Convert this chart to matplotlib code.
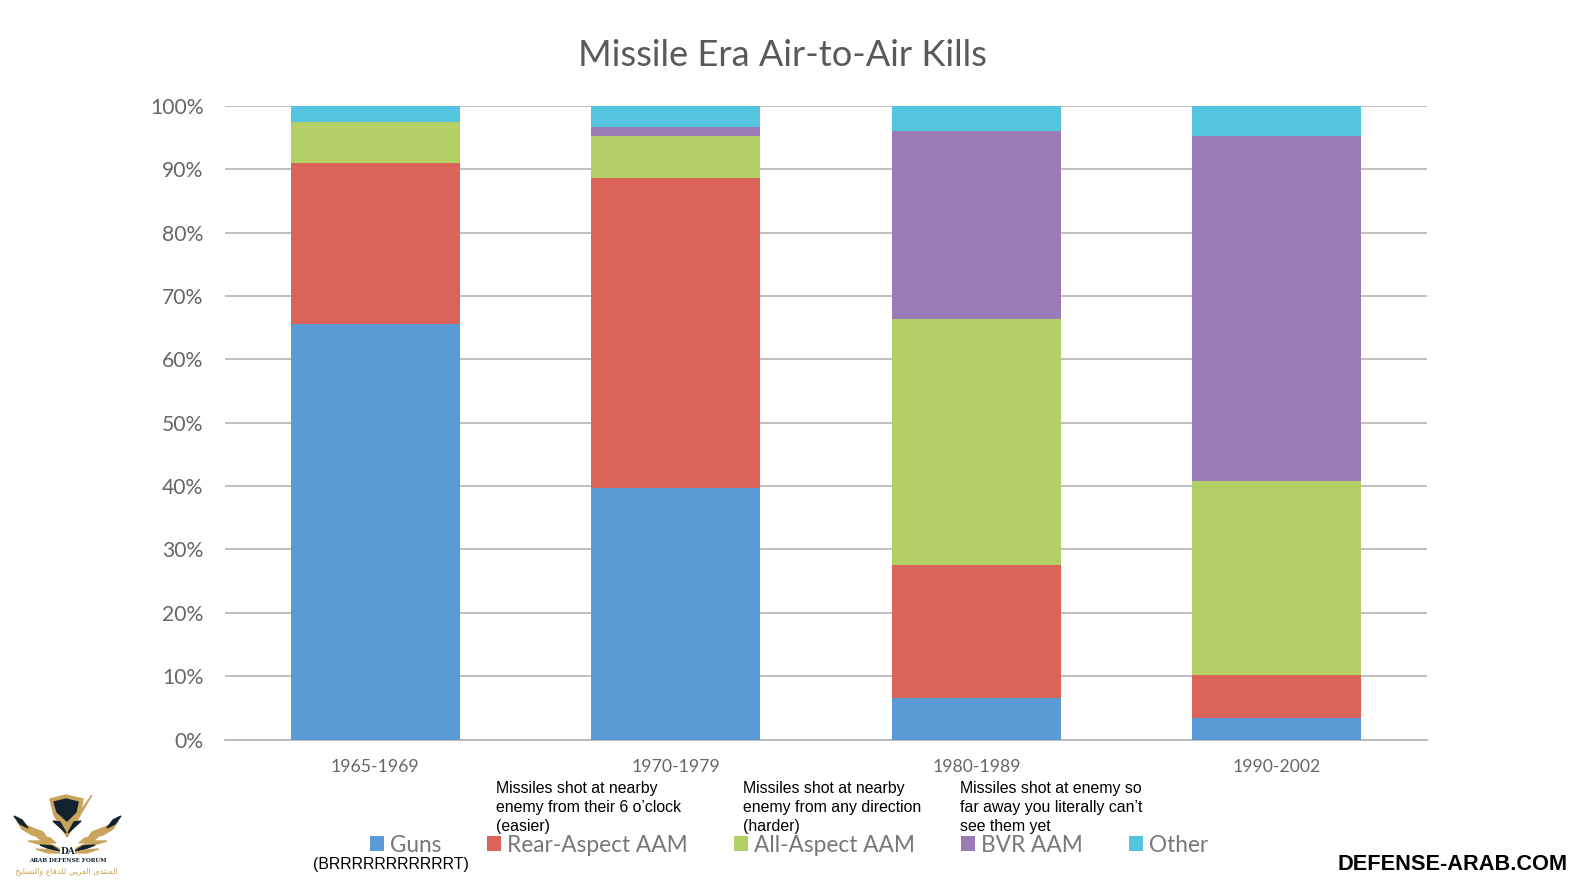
import matplotlib.pyplot as plt
import matplotlib.ticker
import numpy as np


class PlotKills:
    """ Creates the stacked percent bars of the air-to-air kills per era. """

    def __init__(self):
        self.periods = ["1965-1969", "1970-1979", "1980-1989", "1990-2002"]
        self.kills = {
            "Guns": [65.6, 39.7, 6.5, 3.4],
            "Rear-Aspect AAM": [25.4, 48.9, 21.1, 6.8],
            "All-Aspect AAM": [6.4, 6.7, 38.8, 30.6],
            "BVR AAM": [0.0, 1.4, 29.6, 54.5],
            "Other": [2.6, 3.3, 4.0, 4.7],
        }
        self.colors = ["#5b9bd5", "#dc635a", "#b2d066", "#9a7bb6", "#55c4df"]

    def plot_bars(self):
        plt.rcParams["font.family"] = "Lato"
        plt.figure(figsize=(15.75, 8.81), dpi=100)
        plt.axes([225 / 1575, 1 - 739.5 / 881, 1202 / 1575, 633.5 / 881])

        bottom = np.zeros(len(self.periods))
        for (name, values), color in zip(self.kills.items(), self.colors):
            plt.bar(self.periods, values, 0.563, bottom=bottom, color=color, label=name, zorder=3)
            bottom += np.array(values)

        plt.xlim(-0.5, 3.5)
        plt.ylim(0, 100)
        plt.yticks(range(0, 101, 10))
        plt.gca().yaxis.set_major_formatter(matplotlib.ticker.StrMethodFormatter("{x:.0f}%"))
        plt.grid(axis="y", color="#b4b4b4", linewidth=1.2, zorder=0)
        plt.tick_params(axis="both", length=0, labelcolor="#666666")
        plt.tick_params(axis="x", labelsize=12.7, pad=14)
        plt.tick_params(axis="y", labelsize=15.2, pad=15.5)
        for side in ["top", "left", "right"]:
            plt.gca().spines[side].set_visible(False)
        plt.gca().spines["bottom"].set_color("#b4b4b4")
        plt.gca().spines["bottom"].set_linewidth(1.2)

        plt.figtext(782.5 / 1575, 1 - 55 / 881, "Missile Era Air-to-Air Kills", fontsize=26.1,
                    color="#595959", ha="center", va="center")

        plt.legend(loc="center", bbox_to_anchor=(789 / 1575, 1 - 845 / 881),
                   bbox_transform=plt.gcf().transFigure, ncol=5, frameon=False, fontsize=16.3,
                   labelcolor="#777777", handlelength=0.62, handleheight=0.62,
                   handletextpad=0.27, columnspacing=2.03, borderpad=0)

    @staticmethod
    def plot_notes():
        notes = [
            (496, "Missiles shot at nearby\nenemy from their 6 o\u2019clock\n(easier)"),
            (743, "Missiles shot at nearby\nenemy from any direction\n(harder)"),
            (960, "Missiles shot at enemy so\nfar away you literally can\u2019t\nsee them yet"),
        ]
        for x, note in notes:
            plt.figtext(x / 1575, 1 - 781 / 881, note, family="Liberation Sans", fontsize=11.45,
                        color="black", ha="left", va="top", linespacing=1.33)

        plt.figtext(391 / 1575, 1 - 864 / 881, "(BRRRRRRRRRRRT)", family="Liberation Sans",
                    fontsize=11.45, color="black", ha="center", va="center")
        plt.figtext(1568 / 1575, 1 - 864 / 881, "DEFENSE-ARAB.COM", family="Liberation Sans",
                    fontsize=15.7, fontweight="bold", color="black", ha="right", va="center")

    @staticmethod
    def plot_logo():
        gold = "#c9a45c"
        navy = "#14222e"
        logo = plt.axes([0, 0, 130 / 1575, 96 / 881])  # pixels of the lower left corner
        logo.set_xlim(0, 130)
        logo.set_ylim(881, 785)
        logo.axis("off")

        logo.fill([50, 66, 83, 80, 67, 54], [799, 795, 799, 815, 837, 815], color=gold)
        logo.fill([54, 66, 78, 76, 67, 57], [802, 799, 802, 812, 821, 812], color=navy)
        logo.fill([67, 92, 74, 67], [837, 795, 820, 828], color=gold)
        logo.fill([53, 60, 66], [821, 822, 833], color=navy)
        logo.fill([81, 74, 68], [821, 822, 833], color=navy)

        # wings, the right one is the left one mirrored
        feathers = [
            ([17, 30, 43, 47, 32, 22], [821, 827, 832, 838, 835, 829], gold),
            ([14, 22, 28, 20], [816, 820, 828, 824], navy),
            ([36, 50, 56, 42], [836, 838, 843, 841], gold),
            ([28, 45, 60, 45], [841, 841, 849, 846], gold),
            ([40, 52, 60, 50], [845, 846, 851, 849], navy),
            ([36, 50, 60, 48], [849, 850, 853, 853], gold),
        ]
        for xs, ys, color in feathers:
            logo.fill(xs, ys, color=color)
            logo.fill([135 - x for x in xs], ys, color=color)

        logo.text(68, 851, "DA", family="DejaVu Serif", fontsize=6.5, fontweight="bold",
                  color=navy, ha="center", va="center")
        logo.text(67.5, 860, "ARAB DEFENSE FORUM", family="DejaVu Serif", fontsize=4.05,
                  fontweight="bold", color=navy, ha="center", va="center")
        arabic = "\ufe8d\ufedf\ufee4\ufee8\ufe98\ufeaa\ufeef \ufe8d\ufedf\ufecc\ufeae\ufe92\ufef2 " \
                 "\ufedf\ufee0\ufeaa\ufed3\ufe8e\ufec9 \ufeed\ufe8d\ufedf\ufe98\ufeb4\ufee0\ufef4\ufea2"
        logo.text(66.5, 871, arabic[::-1], family="DejaVu Sans", fontsize=5.8, color=gold,
                  ha="center", va="center")


plot = PlotKills()
plot.plot_bars()
plot.plot_notes()
plot.plot_logo()
plt.savefig("out.png", dpi=100)
